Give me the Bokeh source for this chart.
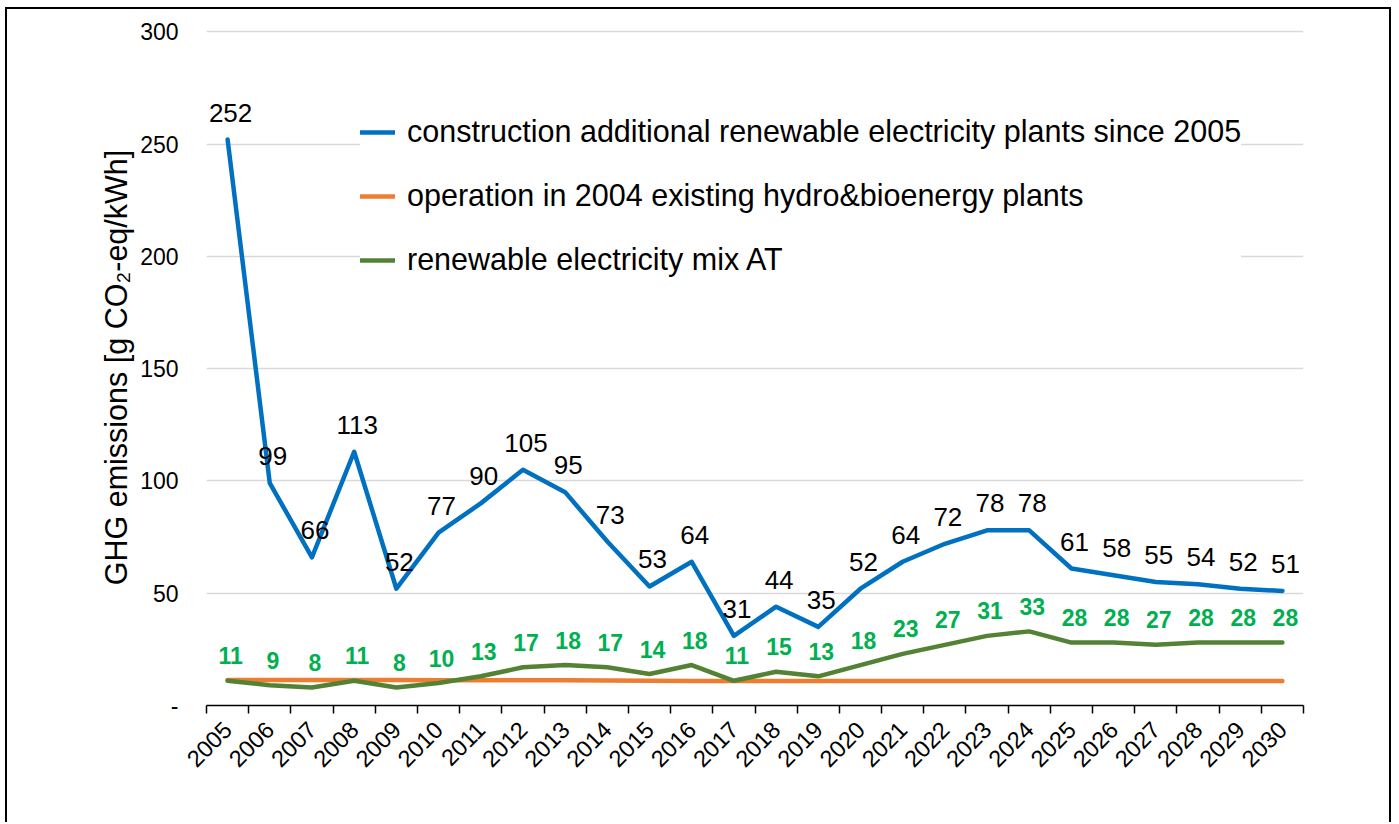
from bokeh.plotting import figure
from bokeh.models import Range1d, FixedTicker, Legend, LegendItem, ColumnDataSource
from bokeh.core.properties import value
from bokeh.embed import file_html
from bokeh.resources import INLINE
import math

years = [str(y) for y in range(2005, 2031)]
construction = [252, 99, 66, 113, 52, 77, 90, 105, 95, 73, 53, 64, 31, 44, 35,
                52, 64, 72, 78, 78, 61, 58, 55, 54, 52, 51]
operation = [11.3, 11.3, 11.3, 11.3, 11.3, 11.2, 11.2, 11.2, 11.2, 11.1, 11.0, 10.9, 10.9,
             10.9, 10.9, 10.9, 10.9, 10.9, 10.9, 10.9, 10.9, 10.9, 10.9, 10.9, 10.9, 10.9]
mix = [11, 9, 8, 11, 8, 10, 13, 17, 18, 17, 14, 18, 11, 15, 13, 18, 23, 27, 31, 33,
       28, 28, 27, 28, 28, 28]
y_ticks = [0, 50, 100, 150, 200, 250, 300]
y_tick_labels = ["-", "50", "100", "150", "200", "250", "300"]
series_names = ["construction additional renewable electricity plants since 2005",
                "operation in 2004 existing hydro&bioenergy plants",
                "renewable electricity mix AT"]

FONT = "Liberation Sans"
BLUE, ORANGE, GREEN, GREEN_TXT = "#0070C0", "#ED7D31", "#548235", "#00B050"

n = len(years)
xs = [i + 0.5 for i in range(n)]

src = ColumnDataSource(dict(
    x=xs, year=years, con=construction, op=operation, mix=mix,
    con_lbl=[str(v) for v in construction], mix_lbl=[str(v) for v in mix],
))

p = figure(width=1386, height=815, output_backend="svg", toolbar_location=None,
           x_range=Range1d(0, n), y_range=Range1d(0, 301),
           min_border_left=199, min_border_right=90, min_border_top=20,
           min_border_bottom=119)
p.styles = {"margin-left": "5px", "margin-top": "7px",
            "border-left": "2px solid black", "border-top": "2px solid black",
            "border-right": "2px solid black"}
p.outline_line_color = None
p.background_fill_color = "white"
p.border_fill_color = "white"

# x axis
xa = p.xaxis[0]
xa.ticker = FixedTicker(ticks=xs, minor_ticks=list(range(n + 1)))
xa.major_label_overrides = {x: y for x, y in zip(xs, years)}
xa.major_tick_in = 0
xa.major_tick_out = 0
xa.minor_tick_in = 0
xa.minor_tick_out = 8
xa.minor_tick_line_color = "black"
xa.minor_tick_line_width = 1.5
xa.axis_line_color = "black"
xa.axis_line_width = 1.5
xa.major_label_orientation = math.pi / 4
xa.major_label_text_font = FONT
xa.major_label_text_font_size = "23.5px"
xa.major_label_text_color = "black"
xa.major_label_standoff = 12

# y axis
ya = p.yaxis[0]
ya.ticker = FixedTicker(ticks=y_ticks)
ya.major_label_overrides = {t: l for t, l in zip(y_ticks, y_tick_labels)}
ya.major_tick_in = 0
ya.major_tick_out = 0
ya.minor_tick_out = 0
ya.minor_tick_in = 0
ya.axis_line_color = None
ya.major_label_standoff = 28
ya.major_label_text_font = FONT
ya.major_label_text_font_size = "23px"
ya.major_label_text_color = "black"
ya.axis_label = "GHG emissions [g CO\u2082-eq/kWh]"
ya.axis_label_text_font = FONT
ya.axis_label_text_font_size = "30.5px"
ya.axis_label_text_font_style = "normal"
ya.axis_label_text_color = "black"
ya.axis_label_standoff = 4

p.xgrid.visible = False
p.ygrid.grid_line_color = "#D9D9D9"
p.ygrid.grid_line_width = 1.5

r_op = p.line("x", "op", source=src, line_color=ORANGE, line_width=4.5,
              line_join="round", line_cap="round")
r_mix = p.line("x", "mix", source=src, line_color=GREEN, line_width=4.5,
               line_join="round", line_cap="round")
r_con = p.line("x", "con", source=src, line_color=BLUE, line_width=4.5,
               line_join="round", line_cap="round")

p.text("x", "con", text="con_lbl", source=src, x_offset=3, y_offset=-27,
       text_align="center", text_baseline="middle", text_color="black",
       text_font=value(FONT), text_font_size="26px")
p.text("x", "mix", text="mix_lbl", source=src, x_offset=3, y_offset=-25,
       text_align="center", text_baseline="middle", text_color=GREEN_TXT,
       text_font=value(FONT), text_font_size="23px", text_font_style="bold")

legend = Legend(items=[LegendItem(label=series_names[0], renderers=[r_con]),
                       LegendItem(label=series_names[1], renderers=[r_op]),
                       LegendItem(label=series_names[2], renderers=[r_mix])],
                location=(154, 428))
legend.label_text_font = FONT
legend.label_text_font_size = "30.5px"
legend.label_text_color = "black"
legend.label_height = 30
legend.glyph_height = 30
legend.glyph_width = 35
legend.label_standoff = 12
legend.spacing = 29
legend.padding = 0
legend.margin = 0
legend.border_line_color = None
legend.background_fill_color = "white"
legend.background_fill_alpha = 1.0
p.add_layout(legend, "center")

open("out.html", "w").write(file_html(p, INLINE))
